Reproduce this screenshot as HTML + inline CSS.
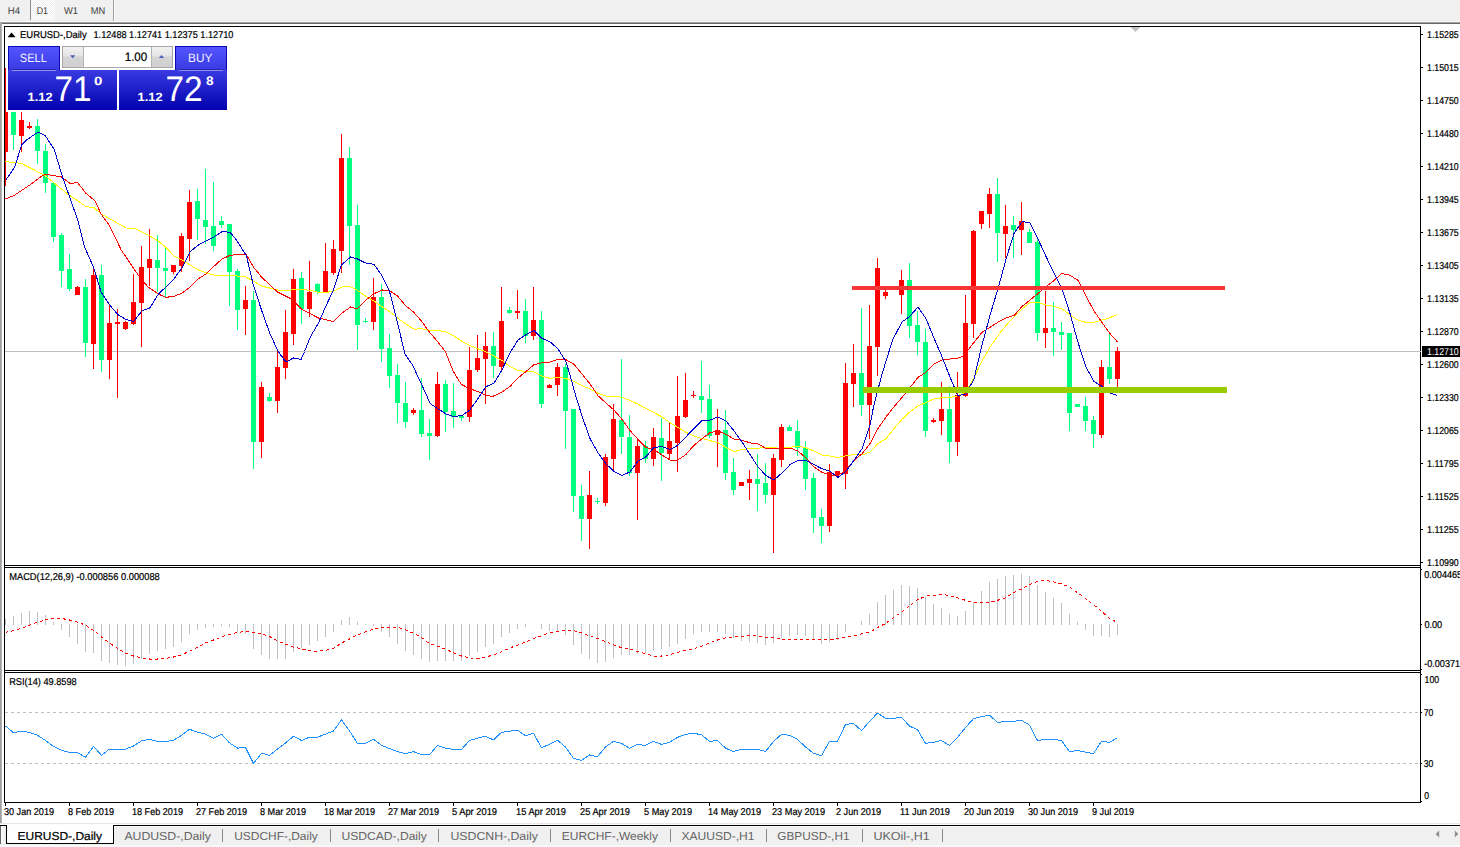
<!DOCTYPE html><html><head><meta charset="utf-8"><title>EURUSD-,Daily</title><style>html,body{margin:0;padding:0;background:#fff;overflow:hidden}svg{display:block}text{font-family:"Liberation Sans",Arial,sans-serif;white-space:pre;text-rendering:geometricPrecision}</style></head><body>
<svg width="1460" height="847" viewBox="0 0 1460 847">
<defs>
<linearGradient id="gb" x1="0" y1="0" x2="0" y2="1"><stop offset="0" stop-color="#5555ff"/><stop offset="1" stop-color="#3a3ae2"/></linearGradient>
<linearGradient id="gp" x1="0" y1="0" x2="0" y2="1"><stop offset="0" stop-color="#3a3ae2"/><stop offset="1" stop-color="#0202ae"/></linearGradient>
<linearGradient id="gs" x1="0" y1="0" x2="0" y2="1"><stop offset="0" stop-color="#f2f2f2"/><stop offset="0.45" stop-color="#e4e4e4"/><stop offset="0.5" stop-color="#d4d4d4"/><stop offset="1" stop-color="#cfcfcf"/></linearGradient>
<pattern id="chk" width="2" height="2" patternUnits="userSpaceOnUse"><rect width="2" height="2" fill="#f0f0f0"/><rect width="1" height="1" fill="#fff"/><rect x="1" y="1" width="1" height="1" fill="#fff"/></pattern>
</defs>
<rect x="0" y="0" width="1460" height="847" fill="#fff" />
<rect x="0" y="0" width="1460" height="22" fill="#f0f0f0" />
<rect x="0" y="21" width="1460" height="1" fill="#f8f8f8" />
<rect x="0" y="22" width="1460" height="1" fill="#a0a0a0" />
<rect x="0" y="23" width="1460" height="1" fill="#696969" />
<rect x="31" y="0" width="24" height="20" fill="url(#chk)" />
<rect x="30" y="0" width="1" height="20" fill="#8c8c8c" />
<rect x="113" y="0" width="1" height="21" fill="#a0a0a0" />
<rect x="114" y="0" width="1" height="21" fill="#fbfbfb" />
<text x="7.7" y="13.8" font-size="10" fill="#3c3c3c" textLength="12.3" lengthAdjust="spacingAndGlyphs" >H4</text>
<text x="36.7" y="13.8" font-size="10" fill="#3c3c3c" textLength="11.3" lengthAdjust="spacingAndGlyphs" >D1</text>
<text x="64" y="13.8" font-size="10" fill="#3c3c3c" textLength="14" lengthAdjust="spacingAndGlyphs" >W1</text>
<text x="90.7" y="13.8" font-size="10" fill="#3c3c3c" textLength="14.5" lengthAdjust="spacingAndGlyphs" >MN</text>
<rect x="0" y="22" width="1" height="803" fill="#a0a0a0" />
<rect x="1" y="23" width="1" height="802" fill="#b4b4b4" />
<g shape-rendering="crispEdges">
<rect x="5" y="351" width="1415" height="1" fill="#c0c0c0" />
<rect x="5" y="68" width="1" height="118" fill="#ff0000" />
<rect x="5" y="112" width="3" height="40" fill="#ff0000" />
<rect x="13" y="112" width="1" height="38" fill="#00ff7f" />
<rect x="11" y="112" width="5" height="23" fill="#00ff7f" />
<rect x="21" y="112" width="1" height="40" fill="#ff0000" />
<rect x="19" y="120" width="5" height="16" fill="#ff0000" />
<rect x="29" y="122" width="1" height="7" fill="#ff0000" />
<rect x="27" y="126" width="5" height="2" fill="#ff0000" />
<rect x="37" y="119" width="1" height="45" fill="#00ff7f" />
<rect x="35" y="126" width="5" height="25" fill="#00ff7f" />
<rect x="45" y="144" width="1" height="49" fill="#00ff7f" />
<rect x="43" y="151" width="5" height="32" fill="#00ff7f" />
<rect x="53" y="182" width="1" height="60" fill="#00ff7f" />
<rect x="51" y="183" width="5" height="54" fill="#00ff7f" />
<rect x="61" y="233" width="1" height="54" fill="#00ff7f" />
<rect x="59" y="235" width="5" height="36" fill="#00ff7f" />
<rect x="69" y="254" width="1" height="37" fill="#00ff7f" />
<rect x="67" y="269" width="5" height="20" fill="#00ff7f" />
<rect x="77" y="286" width="1" height="9" fill="#ff0000" />
<rect x="75" y="287" width="5" height="8" fill="#ff0000" />
<rect x="85" y="279" width="1" height="78" fill="#00ff7f" />
<rect x="83" y="287" width="5" height="56" fill="#00ff7f" />
<rect x="93" y="269" width="1" height="100" fill="#ff0000" />
<rect x="91" y="275" width="5" height="69" fill="#ff0000" />
<rect x="101" y="265" width="1" height="107" fill="#00ff7f" />
<rect x="99" y="275" width="5" height="85" fill="#00ff7f" />
<rect x="109" y="304" width="1" height="75" fill="#ff0000" />
<rect x="107" y="323" width="5" height="37" fill="#ff0000" />
<rect x="117" y="309" width="1" height="89" fill="#ff0000" />
<rect x="115" y="322" width="5" height="2" fill="#ff0000" />
<rect x="125" y="321" width="1" height="9" fill="#ff0000" />
<rect x="123" y="322" width="5" height="7" fill="#ff0000" />
<rect x="133" y="274" width="1" height="51" fill="#ff0000" />
<rect x="131" y="302" width="5" height="22" fill="#ff0000" />
<rect x="141" y="246" width="1" height="101" fill="#ff0000" />
<rect x="139" y="267" width="5" height="36" fill="#ff0000" />
<rect x="149" y="229" width="1" height="57" fill="#ff0000" />
<rect x="147" y="259" width="5" height="9" fill="#ff0000" />
<rect x="157" y="235" width="1" height="57" fill="#00ff7f" />
<rect x="155" y="260" width="5" height="8" fill="#00ff7f" />
<rect x="165" y="248" width="1" height="49" fill="#00ff7f" />
<rect x="163" y="268" width="5" height="3" fill="#00ff7f" />
<rect x="173" y="265" width="1" height="9" fill="#ff0000" />
<rect x="171" y="265" width="5" height="7" fill="#ff0000" />
<rect x="181" y="233" width="1" height="39" fill="#ff0000" />
<rect x="179" y="236" width="5" height="30" fill="#ff0000" />
<rect x="189" y="190" width="1" height="71" fill="#ff0000" />
<rect x="187" y="202" width="5" height="37" fill="#ff0000" />
<rect x="197" y="189" width="1" height="51" fill="#00ff7f" />
<rect x="195" y="201" width="5" height="18" fill="#00ff7f" />
<rect x="205" y="169" width="1" height="75" fill="#00ff7f" />
<rect x="203" y="220" width="5" height="7" fill="#00ff7f" />
<rect x="213" y="182" width="1" height="69" fill="#00ff7f" />
<rect x="211" y="226" width="5" height="20" fill="#00ff7f" />
<rect x="221" y="216" width="1" height="12" fill="#00ff7f" />
<rect x="219" y="221" width="5" height="4" fill="#00ff7f" />
<rect x="229" y="224" width="1" height="82" fill="#00ff7f" />
<rect x="227" y="224" width="5" height="48" fill="#00ff7f" />
<rect x="237" y="269" width="1" height="61" fill="#00ff7f" />
<rect x="235" y="271" width="5" height="39" fill="#00ff7f" />
<rect x="245" y="286" width="1" height="49" fill="#ff0000" />
<rect x="243" y="300" width="5" height="9" fill="#ff0000" />
<rect x="253" y="291" width="1" height="178" fill="#00ff7f" />
<rect x="251" y="300" width="5" height="142" fill="#00ff7f" />
<rect x="261" y="382" width="1" height="76" fill="#ff0000" />
<rect x="259" y="387" width="5" height="55" fill="#ff0000" />
<rect x="269" y="393" width="1" height="9" fill="#00ff7f" />
<rect x="267" y="397" width="5" height="4" fill="#00ff7f" />
<rect x="277" y="349" width="1" height="64" fill="#ff0000" />
<rect x="275" y="367" width="5" height="34" fill="#ff0000" />
<rect x="285" y="310" width="1" height="69" fill="#ff0000" />
<rect x="283" y="332" width="5" height="36" fill="#ff0000" />
<rect x="293" y="269" width="1" height="76" fill="#ff0000" />
<rect x="291" y="279" width="5" height="55" fill="#ff0000" />
<rect x="301" y="272" width="1" height="52" fill="#00ff7f" />
<rect x="299" y="278" width="5" height="31" fill="#00ff7f" />
<rect x="309" y="261" width="1" height="56" fill="#ff0000" />
<rect x="307" y="292" width="5" height="17" fill="#ff0000" />
<rect x="317" y="283" width="1" height="11" fill="#00ff7f" />
<rect x="315" y="284" width="5" height="8" fill="#00ff7f" />
<rect x="325" y="243" width="1" height="49" fill="#ff0000" />
<rect x="323" y="271" width="5" height="21" fill="#ff0000" />
<rect x="333" y="240" width="1" height="35" fill="#ff0000" />
<rect x="331" y="249" width="5" height="24" fill="#ff0000" />
<rect x="341" y="134" width="1" height="139" fill="#ff0000" />
<rect x="339" y="158" width="5" height="93" fill="#ff0000" />
<rect x="349" y="147" width="1" height="118" fill="#00ff7f" />
<rect x="347" y="158" width="5" height="68" fill="#00ff7f" />
<rect x="357" y="205" width="1" height="145" fill="#00ff7f" />
<rect x="355" y="225" width="5" height="100" fill="#00ff7f" />
<rect x="365" y="318" width="1" height="5" fill="#00ff7f" />
<rect x="363" y="321" width="5" height="1" fill="#00ff7f" />
<rect x="373" y="278" width="1" height="52" fill="#ff0000" />
<rect x="371" y="297" width="5" height="25" fill="#ff0000" />
<rect x="381" y="284" width="1" height="78" fill="#00ff7f" />
<rect x="379" y="297" width="5" height="52" fill="#00ff7f" />
<rect x="389" y="334" width="1" height="54" fill="#00ff7f" />
<rect x="387" y="348" width="5" height="28" fill="#00ff7f" />
<rect x="397" y="364" width="1" height="59" fill="#00ff7f" />
<rect x="395" y="375" width="5" height="28" fill="#00ff7f" />
<rect x="405" y="382" width="1" height="46" fill="#00ff7f" />
<rect x="403" y="403" width="5" height="19" fill="#00ff7f" />
<rect x="413" y="408" width="1" height="7" fill="#ff0000" />
<rect x="411" y="410" width="5" height="3" fill="#ff0000" />
<rect x="421" y="378" width="1" height="59" fill="#00ff7f" />
<rect x="419" y="410" width="5" height="24" fill="#00ff7f" />
<rect x="429" y="419" width="1" height="41" fill="#00ff7f" />
<rect x="427" y="433" width="5" height="3" fill="#00ff7f" />
<rect x="437" y="372" width="1" height="65" fill="#ff0000" />
<rect x="435" y="384" width="5" height="52" fill="#ff0000" />
<rect x="445" y="380" width="1" height="52" fill="#00ff7f" />
<rect x="443" y="384" width="5" height="28" fill="#00ff7f" />
<rect x="453" y="383" width="1" height="45" fill="#00ff7f" />
<rect x="451" y="411" width="5" height="6" fill="#00ff7f" />
<rect x="461" y="416" width="1" height="5" fill="#00ff7f" />
<rect x="459" y="416" width="5" height="2" fill="#00ff7f" />
<rect x="469" y="347" width="1" height="75" fill="#ff0000" />
<rect x="467" y="370" width="5" height="47" fill="#ff0000" />
<rect x="477" y="335" width="1" height="37" fill="#ff0000" />
<rect x="475" y="358" width="5" height="12" fill="#ff0000" />
<rect x="485" y="332" width="1" height="72" fill="#ff0000" />
<rect x="483" y="346" width="5" height="13" fill="#ff0000" />
<rect x="493" y="332" width="1" height="46" fill="#00ff7f" />
<rect x="491" y="346" width="5" height="20" fill="#00ff7f" />
<rect x="501" y="287" width="1" height="83" fill="#ff0000" />
<rect x="499" y="321" width="5" height="46" fill="#ff0000" />
<rect x="509" y="307" width="1" height="7" fill="#00ff7f" />
<rect x="507" y="310" width="5" height="3" fill="#00ff7f" />
<rect x="517" y="290" width="1" height="29" fill="#ff0000" />
<rect x="515" y="311" width="5" height="2" fill="#ff0000" />
<rect x="525" y="299" width="1" height="44" fill="#00ff7f" />
<rect x="523" y="311" width="5" height="25" fill="#00ff7f" />
<rect x="533" y="287" width="1" height="53" fill="#ff0000" />
<rect x="531" y="320" width="5" height="16" fill="#ff0000" />
<rect x="541" y="311" width="1" height="97" fill="#00ff7f" />
<rect x="539" y="320" width="5" height="84" fill="#00ff7f" />
<rect x="549" y="384" width="1" height="4" fill="#ff0000" />
<rect x="547" y="385" width="5" height="3" fill="#ff0000" />
<rect x="557" y="363" width="1" height="33" fill="#ff0000" />
<rect x="555" y="367" width="5" height="18" fill="#ff0000" />
<rect x="565" y="364" width="1" height="85" fill="#00ff7f" />
<rect x="563" y="367" width="5" height="44" fill="#00ff7f" />
<rect x="573" y="409" width="1" height="103" fill="#00ff7f" />
<rect x="571" y="409" width="5" height="87" fill="#00ff7f" />
<rect x="581" y="485" width="1" height="56" fill="#00ff7f" />
<rect x="579" y="496" width="5" height="23" fill="#00ff7f" />
<rect x="589" y="471" width="1" height="78" fill="#ff0000" />
<rect x="587" y="495" width="5" height="24" fill="#ff0000" />
<rect x="597" y="498" width="1" height="6" fill="#00ff7f" />
<rect x="595" y="501" width="5" height="1" fill="#00ff7f" />
<rect x="605" y="454" width="1" height="52" fill="#ff0000" />
<rect x="603" y="457" width="5" height="46" fill="#ff0000" />
<rect x="613" y="404" width="1" height="66" fill="#ff0000" />
<rect x="611" y="419" width="5" height="40" fill="#ff0000" />
<rect x="621" y="359" width="1" height="95" fill="#00ff7f" />
<rect x="619" y="420" width="5" height="17" fill="#00ff7f" />
<rect x="629" y="415" width="1" height="61" fill="#00ff7f" />
<rect x="627" y="437" width="5" height="36" fill="#00ff7f" />
<rect x="637" y="439" width="1" height="81" fill="#ff0000" />
<rect x="635" y="446" width="5" height="27" fill="#ff0000" />
<rect x="645" y="441" width="1" height="22" fill="#00ff7f" />
<rect x="643" y="446" width="5" height="13" fill="#00ff7f" />
<rect x="653" y="428" width="1" height="38" fill="#ff0000" />
<rect x="651" y="437" width="5" height="22" fill="#ff0000" />
<rect x="661" y="418" width="1" height="63" fill="#00ff7f" />
<rect x="659" y="438" width="5" height="15" fill="#00ff7f" />
<rect x="669" y="422" width="1" height="38" fill="#ff0000" />
<rect x="667" y="441" width="5" height="13" fill="#ff0000" />
<rect x="677" y="376" width="1" height="96" fill="#ff0000" />
<rect x="675" y="416" width="5" height="27" fill="#ff0000" />
<rect x="685" y="373" width="1" height="45" fill="#ff0000" />
<rect x="683" y="400" width="5" height="17" fill="#ff0000" />
<rect x="693" y="391" width="1" height="7" fill="#ff0000" />
<rect x="691" y="395" width="5" height="1" fill="#ff0000" />
<rect x="701" y="361" width="1" height="52" fill="#00ff7f" />
<rect x="699" y="396" width="5" height="4" fill="#00ff7f" />
<rect x="709" y="385" width="1" height="53" fill="#00ff7f" />
<rect x="707" y="399" width="5" height="37" fill="#00ff7f" />
<rect x="717" y="409" width="1" height="58" fill="#ff0000" />
<rect x="715" y="430" width="5" height="5" fill="#ff0000" />
<rect x="725" y="410" width="1" height="70" fill="#00ff7f" />
<rect x="723" y="430" width="5" height="43" fill="#00ff7f" />
<rect x="733" y="458" width="1" height="37" fill="#00ff7f" />
<rect x="731" y="472" width="5" height="18" fill="#00ff7f" />
<rect x="741" y="482" width="1" height="4" fill="#ff0000" />
<rect x="739" y="482" width="5" height="4" fill="#ff0000" />
<rect x="749" y="470" width="1" height="30" fill="#ff0000" />
<rect x="747" y="479" width="5" height="4" fill="#ff0000" />
<rect x="757" y="454" width="1" height="57" fill="#00ff7f" />
<rect x="755" y="479" width="5" height="5" fill="#00ff7f" />
<rect x="765" y="463" width="1" height="40" fill="#00ff7f" />
<rect x="763" y="483" width="5" height="12" fill="#00ff7f" />
<rect x="773" y="454" width="1" height="99" fill="#ff0000" />
<rect x="771" y="458" width="5" height="37" fill="#ff0000" />
<rect x="781" y="424" width="1" height="43" fill="#ff0000" />
<rect x="779" y="427" width="5" height="33" fill="#ff0000" />
<rect x="789" y="425" width="1" height="6" fill="#00ff7f" />
<rect x="787" y="427" width="5" height="4" fill="#00ff7f" />
<rect x="797" y="420" width="1" height="36" fill="#00ff7f" />
<rect x="795" y="431" width="5" height="17" fill="#00ff7f" />
<rect x="805" y="441" width="1" height="49" fill="#00ff7f" />
<rect x="803" y="448" width="5" height="31" fill="#00ff7f" />
<rect x="813" y="473" width="1" height="60" fill="#00ff7f" />
<rect x="811" y="478" width="5" height="40" fill="#00ff7f" />
<rect x="821" y="509" width="1" height="34" fill="#00ff7f" />
<rect x="819" y="517" width="5" height="9" fill="#00ff7f" />
<rect x="829" y="464" width="1" height="68" fill="#ff0000" />
<rect x="827" y="472" width="5" height="54" fill="#ff0000" />
<rect x="837" y="471" width="1" height="5" fill="#ff0000" />
<rect x="835" y="471" width="5" height="4" fill="#ff0000" />
<rect x="845" y="363" width="1" height="126" fill="#ff0000" />
<rect x="843" y="383" width="5" height="91" fill="#ff0000" />
<rect x="853" y="344" width="1" height="63" fill="#ff0000" />
<rect x="851" y="373" width="5" height="11" fill="#ff0000" />
<rect x="861" y="308" width="1" height="108" fill="#00ff7f" />
<rect x="859" y="373" width="5" height="32" fill="#00ff7f" />
<rect x="869" y="305" width="1" height="134" fill="#ff0000" />
<rect x="867" y="346" width="5" height="59" fill="#ff0000" />
<rect x="877" y="258" width="1" height="118" fill="#ff0000" />
<rect x="875" y="268" width="5" height="79" fill="#ff0000" />
<rect x="885" y="290" width="1" height="9" fill="#ff0000" />
<rect x="883" y="292" width="5" height="4" fill="#ff0000" />
<rect x="893" y="287" width="1" height="2" fill="#ff0000" />
<rect x="891" y="287" width="5" height="2" fill="#ff0000" />
<rect x="901" y="270" width="1" height="44" fill="#ff0000" />
<rect x="899" y="280" width="5" height="15" fill="#ff0000" />
<rect x="909" y="263" width="1" height="75" fill="#00ff7f" />
<rect x="907" y="280" width="5" height="46" fill="#00ff7f" />
<rect x="917" y="311" width="1" height="44" fill="#00ff7f" />
<rect x="915" y="325" width="5" height="17" fill="#00ff7f" />
<rect x="925" y="329" width="1" height="108" fill="#00ff7f" />
<rect x="923" y="342" width="5" height="89" fill="#00ff7f" />
<rect x="933" y="418" width="1" height="5" fill="#ff0000" />
<rect x="931" y="420" width="5" height="2" fill="#ff0000" />
<rect x="941" y="382" width="1" height="53" fill="#ff0000" />
<rect x="939" y="409" width="5" height="12" fill="#ff0000" />
<rect x="949" y="386" width="1" height="77" fill="#00ff7f" />
<rect x="947" y="409" width="5" height="33" fill="#00ff7f" />
<rect x="957" y="372" width="1" height="84" fill="#ff0000" />
<rect x="955" y="395" width="5" height="47" fill="#ff0000" />
<rect x="965" y="295" width="1" height="102" fill="#ff0000" />
<rect x="963" y="323" width="5" height="73" fill="#ff0000" />
<rect x="973" y="230" width="1" height="108" fill="#ff0000" />
<rect x="971" y="231" width="5" height="93" fill="#ff0000" />
<rect x="981" y="211" width="1" height="18" fill="#ff0000" />
<rect x="979" y="211" width="5" height="13" fill="#ff0000" />
<rect x="989" y="188" width="1" height="40" fill="#ff0000" />
<rect x="987" y="194" width="5" height="20" fill="#ff0000" />
<rect x="997" y="178" width="1" height="84" fill="#00ff7f" />
<rect x="995" y="194" width="5" height="39" fill="#00ff7f" />
<rect x="1005" y="205" width="1" height="53" fill="#ff0000" />
<rect x="1003" y="226" width="5" height="8" fill="#ff0000" />
<rect x="1013" y="216" width="1" height="42" fill="#00ff7f" />
<rect x="1011" y="225" width="5" height="5" fill="#00ff7f" />
<rect x="1021" y="202" width="1" height="53" fill="#ff0000" />
<rect x="1019" y="221" width="5" height="9" fill="#ff0000" />
<rect x="1029" y="229" width="1" height="14" fill="#00ff7f" />
<rect x="1027" y="232" width="5" height="11" fill="#00ff7f" />
<rect x="1037" y="237" width="1" height="104" fill="#00ff7f" />
<rect x="1035" y="242" width="5" height="91" fill="#00ff7f" />
<rect x="1045" y="291" width="1" height="57" fill="#ff0000" />
<rect x="1043" y="328" width="5" height="5" fill="#ff0000" />
<rect x="1053" y="302" width="1" height="54" fill="#00ff7f" />
<rect x="1051" y="328" width="5" height="4" fill="#00ff7f" />
<rect x="1061" y="322" width="1" height="28" fill="#00ff7f" />
<rect x="1059" y="332" width="5" height="3" fill="#00ff7f" />
<rect x="1069" y="333" width="1" height="98" fill="#00ff7f" />
<rect x="1067" y="333" width="5" height="80" fill="#00ff7f" />
<rect x="1077" y="404" width="1" height="3" fill="#00ff7f" />
<rect x="1075" y="404" width="5" height="3" fill="#00ff7f" />
<rect x="1085" y="397" width="1" height="34" fill="#00ff7f" />
<rect x="1083" y="406" width="5" height="15" fill="#00ff7f" />
<rect x="1093" y="416" width="1" height="32" fill="#00ff7f" />
<rect x="1091" y="420" width="5" height="14" fill="#00ff7f" />
<rect x="1101" y="360" width="1" height="78" fill="#ff0000" />
<rect x="1099" y="367" width="5" height="68" fill="#ff0000" />
<rect x="1109" y="334" width="1" height="50" fill="#00ff7f" />
<rect x="1107" y="367" width="5" height="12" fill="#00ff7f" />
<rect x="1117" y="347" width="1" height="40" fill="#ff0000" />
<rect x="1115" y="351" width="5" height="28" fill="#ff0000" />
</g>
<g shape-rendering="crispEdges">
<polyline points="5.0,161.4 6.4,161.7 21.5,163.4 44.9,175.4 67.5,193.9 86.0,206.5 94.5,208.0 101.1,214.0 126.3,228.0 134.5,228.2 149.5,235.8 158.1,241.0 165.5,246.8 174.1,256.0 182.5,260.2 190.0,265.0 198.4,270.0 206.5,272.8 213.5,275.0 236.5,276.0 244.9,276.6 253.3,281.0 261.5,286.0 277.5,290.0 285.1,291.0 293.5,289.5 302.5,289.5 310.3,290.3 318.5,292.3 327.1,292.3 333.5,291.0 342.2,287.0 350.5,286.6 357.2,290.3 365.5,296.0 374.0,301.0 382.5,307.0 389.9,312.0 397.5,318.0 405.9,323.9 414.3,329.4 421.0,328.4 429.4,330.6 439.5,330.6 446.1,332.0 454.5,336.4 462.1,341.5 471.3,346.0 478.0,348.8 485.9,351.8 494.0,356.2 502.0,360.4 509.9,366.5 518.0,370.4 526.0,371.5 533.9,371.8 542.1,376.0 550.0,378.5 558.0,377.0 566.1,378.5 574.1,381.5 582.0,385.7 590.1,389.0 598.0,393.3 606.0,396.0 613.9,396.0 622.0,397.3 630.1,400.5 638.0,404.1 646.0,408.6 653.9,412.6 662.0,416.8 670.0,422.7 677.9,427.4 685.9,432.2 694.0,436.0 702.2,438.6 710.1,440.6 718.1,442.8 726.0,447.5 734.1,451.7 742.0,449.5 750.0,448.7 758.1,448.3 765.9,447.3 782.0,448.3 790.1,447.3 798.0,446.0 805.9,447.8 814.0,451.0 822.0,455.0 829.9,456.0 838.0,457.5 846.0,455.8 853.9,454.5 862.1,455.0 870.0,452.0 878.0,443.6 886.1,438.6 894.1,428.5 902.0,419.3 910.1,411.7 918.0,405.9 926.0,402.5 933.9,399.0 941.9,397.8 949.8,397.5 957.9,395.8 965.9,392.0 973.9,378.0 982.3,360.5 990.5,346.5 999.9,333.0 1009.1,322.0 1017.5,313.5 1025.5,305.9 1030.1,302.5 1038.0,302.2 1046.0,305.0 1053.9,306.3 1062.0,308.8 1070.0,315.0 1077.9,320.0 1085.9,322.4 1094.0,322.4 1102.2,320.0 1110.1,317.7 1117.3,314.4" fill="none" stroke="#ffff00" stroke-width="1" />
<polyline points="5.0,199.0 6.4,198.6 13.9,195.6 29.0,185.5 41.5,176.3 45.5,174.3 55.5,176.0 61.5,177.0 70.1,183.5 77.5,182.5 86.0,193.4 95.2,201.0 101.1,214.0 109.5,225.7 121.2,250.0 139.5,277.0 148.1,287.0 158.1,293.8 165.5,297.4 174.1,296.3 182.5,292.9 190.0,287.0 198.4,278.7 206.5,273.6 214.3,266.0 221.5,259.4 229.5,255.5 237.0,254.5 246.5,254.8 253.3,266.8 261.5,277.0 277.5,292.0 291.0,298.7 301.1,308.8 310.3,313.8 318.5,318.0 326.2,319.7 333.5,321.7 342.2,313.0 350.5,307.0 357.2,309.0 365.5,300.4 374.0,293.7 382.5,290.0 389.9,291.0 397.5,296.0 405.9,306.0 413.5,312.0 421.0,320.5 429.4,332.0 437.5,341.5 445.3,351.5 453.5,371.8 461.3,384.4 469.5,388.6 478.1,391.6 485.5,395.0 492.3,396.6 502.0,392.0 509.9,386.5 518.0,378.0 526.0,371.5 533.9,364.8 542.1,362.7 550.0,362.0 558.0,359.4 566.1,359.7 574.1,364.4 582.0,374.0 590.1,384.0 598.0,395.8 605.9,403.0 614.0,410.0 622.0,419.3 630.1,430.6 638.0,439.4 646.0,447.5 653.9,449.5 662.0,455.0 670.0,460.0 677.9,460.0 685.9,454.5 694.0,445.3 702.2,438.6 710.1,432.7 718.1,431.0 726.0,434.4 734.1,439.0 742.0,440.3 750.0,442.8 758.1,444.0 765.9,448.3 774.0,448.3 782.0,448.3 790.1,448.0 798.0,451.0 805.9,457.9 814.0,467.0 822.0,472.4 829.9,475.0 838.0,475.5 846.0,470.4 853.9,460.4 862.1,453.7 870.0,443.6 878.0,428.5 886.1,416.8 894.1,406.7 906.2,392.5 910.1,387.4 918.0,377.4 926.0,372.3 933.9,364.0 941.9,360.0 949.8,359.0 957.9,358.0 964.9,355.6 967.2,351.0 973.9,342.5 981.9,332.5 990.5,327.0 999.9,321.0 1006.5,317.8 1014.4,315.2 1022.5,306.0 1025.9,303.5 1029.9,300.0 1037.9,293.6 1046.0,286.6 1053.9,280.7 1061.5,273.5 1070.1,275.3 1078.5,280.7 1084.4,292.5 1085.9,296.0 1094.0,311.0 1102.2,322.8 1110.1,333.7 1117.3,341.7" fill="none" stroke="#ff0000" stroke-width="1" />
<polyline points="5.5,180.5 14.8,167.0 21.5,145.0 26.5,140.0 38.2,132.0 45.5,136.0 54.2,149.4 62.5,177.0 70.9,200.6 78.5,222.4 84.4,246.8 93.5,267.0 101.1,292.0 109.5,304.7 117.9,314.7 126.3,319.7 133.8,321.4 142.2,310.5 149.8,308.0 158.1,294.6 174.1,278.7 182.5,267.0 190.0,251.8 198.4,245.0 214.3,236.7 222.5,231.4 230.3,232.5 236.5,240.0 246.5,256.0 253.3,285.0 261.5,310.0 270.0,334.0 278.5,352.0 286.0,362.0 293.5,358.0 301.1,359.4 304.5,351.5 310.3,337.0 318.5,323.0 326.2,305.4 333.5,290.0 341.3,265.0 350.5,257.0 357.2,258.8 365.5,263.0 374.0,264.3 381.5,275.0 389.1,290.0 396.5,318.8 405.0,354.0 412.5,365.0 421.9,385.0 430.3,403.7 437.8,408.7 446.2,414.0 453.5,416.6 462.1,415.4 469.5,410.4 478.1,398.5 485.9,386.7 494.0,383.2 502.0,369.9 509.9,353.0 518.0,340.0 526.0,334.6 533.9,330.4 542.1,338.4 550.0,341.8 558.0,348.8 566.1,362.0 571.1,379.0 575.5,395.0 582.3,416.8 590.0,438.6 598.1,452.9 605.9,463.8 614.0,471.3 622.0,475.5 630.1,471.8 638.0,461.2 646.0,456.7 653.9,447.5 662.0,446.5 670.0,449.5 677.9,445.3 685.9,436.9 694.0,428.5 702.2,420.5 710.1,420.0 718.1,417.0 726.0,421.0 734.1,431.0 742.0,442.0 750.0,454.5 758.1,467.0 765.9,475.5 774.0,480.0 782.0,473.0 790.1,464.6 798.0,460.5 805.9,460.4 814.0,464.6 822.0,468.8 829.9,471.3 838.0,477.5 846.0,471.3 853.9,460.4 862.1,448.6 870.0,425.0 873.5,407.0 881.1,377.4 886.1,360.6 892.8,339.6 902.0,322.0 910.1,316.0 918.0,307.0 926.0,318.7 933.9,338.0 941.9,356.4 949.8,376.5 957.9,395.8 965.9,394.0 974.0,379.0 981.5,347.0 990.1,315.0 998.5,286.8 1006.1,259.0 1013.9,233.8 1022.0,221.7 1029.9,222.5 1037.9,238.8 1046.0,256.4 1053.9,273.0 1060.1,285.0 1063.5,293.4 1070.0,313.5 1077.9,342.0 1085.9,367.0 1094.0,381.5 1102.2,386.5 1110.1,393.0 1117.3,395.4" fill="none" stroke="#0000cd" stroke-width="1" />
<rect x="852" y="286" width="373" height="4" fill="#f93636" />
<rect x="863" y="387" width="364" height="6" fill="#99cc00" />
<rect x="5" y="619" width="1" height="6" fill="#c0c0c0" />
<rect x="13" y="616" width="1" height="9" fill="#c0c0c0" />
<rect x="21" y="613" width="1" height="12" fill="#c0c0c0" />
<rect x="29" y="611" width="1" height="14" fill="#c0c0c0" />
<rect x="37" y="612" width="1" height="13" fill="#c0c0c0" />
<rect x="45" y="615" width="1" height="10" fill="#c0c0c0" />
<rect x="53" y="622" width="1" height="3" fill="#c0c0c0" />
<rect x="61" y="624" width="1" height="6" fill="#c0c0c0" />
<rect x="69" y="624" width="1" height="13" fill="#c0c0c0" />
<rect x="77" y="624" width="1" height="20" fill="#c0c0c0" />
<rect x="85" y="624" width="1" height="28" fill="#c0c0c0" />
<rect x="93" y="624" width="1" height="29" fill="#c0c0c0" />
<rect x="101" y="624" width="1" height="37" fill="#c0c0c0" />
<rect x="109" y="624" width="1" height="39" fill="#c0c0c0" />
<rect x="117" y="624" width="1" height="41" fill="#c0c0c0" />
<rect x="125" y="624" width="1" height="42" fill="#c0c0c0" />
<rect x="133" y="624" width="1" height="40" fill="#c0c0c0" />
<rect x="141" y="624" width="1" height="35" fill="#c0c0c0" />
<rect x="149" y="624" width="1" height="30" fill="#c0c0c0" />
<rect x="157" y="624" width="1" height="27" fill="#c0c0c0" />
<rect x="165" y="624" width="1" height="25" fill="#c0c0c0" />
<rect x="173" y="624" width="1" height="23" fill="#c0c0c0" />
<rect x="181" y="624" width="1" height="18" fill="#c0c0c0" />
<rect x="189" y="624" width="1" height="10" fill="#c0c0c0" />
<rect x="197" y="624" width="1" height="6" fill="#c0c0c0" />
<rect x="205" y="624" width="1" height="4" fill="#c0c0c0" />
<rect x="213" y="624" width="1" height="3" fill="#c0c0c0" />
<rect x="221" y="624" width="1" height="2" fill="#c0c0c0" />
<rect x="229" y="624" width="1" height="3" fill="#c0c0c0" />
<rect x="237" y="624" width="1" height="8" fill="#c0c0c0" />
<rect x="245" y="624" width="1" height="10" fill="#c0c0c0" />
<rect x="253" y="624" width="1" height="25" fill="#c0c0c0" />
<rect x="261" y="624" width="1" height="31" fill="#c0c0c0" />
<rect x="269" y="624" width="1" height="35" fill="#c0c0c0" />
<rect x="277" y="624" width="1" height="35" fill="#c0c0c0" />
<rect x="285" y="624" width="1" height="35" fill="#c0c0c0" />
<rect x="293" y="624" width="1" height="28" fill="#c0c0c0" />
<rect x="301" y="624" width="1" height="24" fill="#c0c0c0" />
<rect x="309" y="624" width="1" height="21" fill="#c0c0c0" />
<rect x="317" y="624" width="1" height="17" fill="#c0c0c0" />
<rect x="325" y="624" width="1" height="13" fill="#c0c0c0" />
<rect x="333" y="624" width="1" height="8" fill="#c0c0c0" />
<rect x="341" y="620" width="1" height="5" fill="#c0c0c0" />
<rect x="349" y="617" width="1" height="8" fill="#c0c0c0" />
<rect x="357" y="622" width="1" height="3" fill="#c0c0c0" />
<rect x="365" y="624" width="1" height="1" fill="#c0c0c0" />
<rect x="373" y="624" width="1" height="2" fill="#c0c0c0" />
<rect x="381" y="624" width="1" height="8" fill="#c0c0c0" />
<rect x="389" y="624" width="1" height="13" fill="#c0c0c0" />
<rect x="397" y="624" width="1" height="20" fill="#c0c0c0" />
<rect x="405" y="624" width="1" height="27" fill="#c0c0c0" />
<rect x="413" y="624" width="1" height="31" fill="#c0c0c0" />
<rect x="421" y="624" width="1" height="35" fill="#c0c0c0" />
<rect x="429" y="624" width="1" height="38" fill="#c0c0c0" />
<rect x="437" y="624" width="1" height="37" fill="#c0c0c0" />
<rect x="445" y="624" width="1" height="37" fill="#c0c0c0" />
<rect x="453" y="624" width="1" height="37" fill="#c0c0c0" />
<rect x="461" y="624" width="1" height="37" fill="#c0c0c0" />
<rect x="469" y="624" width="1" height="32" fill="#c0c0c0" />
<rect x="477" y="624" width="1" height="28" fill="#c0c0c0" />
<rect x="485" y="624" width="1" height="23" fill="#c0c0c0" />
<rect x="493" y="624" width="1" height="20" fill="#c0c0c0" />
<rect x="501" y="624" width="1" height="13" fill="#c0c0c0" />
<rect x="509" y="624" width="1" height="9" fill="#c0c0c0" />
<rect x="517" y="624" width="1" height="5" fill="#c0c0c0" />
<rect x="525" y="624" width="1" height="3" fill="#c0c0c0" />
<rect x="541" y="624" width="1" height="5" fill="#c0c0c0" />
<rect x="549" y="624" width="1" height="7" fill="#c0c0c0" />
<rect x="557" y="624" width="1" height="8" fill="#c0c0c0" />
<rect x="565" y="624" width="1" height="11" fill="#c0c0c0" />
<rect x="573" y="624" width="1" height="21" fill="#c0c0c0" />
<rect x="581" y="624" width="1" height="30" fill="#c0c0c0" />
<rect x="589" y="624" width="1" height="35" fill="#c0c0c0" />
<rect x="597" y="624" width="1" height="39" fill="#c0c0c0" />
<rect x="605" y="624" width="1" height="38" fill="#c0c0c0" />
<rect x="613" y="624" width="1" height="34" fill="#c0c0c0" />
<rect x="621" y="624" width="1" height="31" fill="#c0c0c0" />
<rect x="629" y="624" width="1" height="31" fill="#c0c0c0" />
<rect x="637" y="624" width="1" height="30" fill="#c0c0c0" />
<rect x="645" y="624" width="1" height="29" fill="#c0c0c0" />
<rect x="653" y="624" width="1" height="27" fill="#c0c0c0" />
<rect x="661" y="624" width="1" height="25" fill="#c0c0c0" />
<rect x="669" y="624" width="1" height="23" fill="#c0c0c0" />
<rect x="677" y="624" width="1" height="20" fill="#c0c0c0" />
<rect x="685" y="624" width="1" height="15" fill="#c0c0c0" />
<rect x="693" y="624" width="1" height="10" fill="#c0c0c0" />
<rect x="701" y="624" width="1" height="8" fill="#c0c0c0" />
<rect x="709" y="624" width="1" height="8" fill="#c0c0c0" />
<rect x="717" y="624" width="1" height="8" fill="#c0c0c0" />
<rect x="725" y="624" width="1" height="10" fill="#c0c0c0" />
<rect x="733" y="624" width="1" height="14" fill="#c0c0c0" />
<rect x="741" y="624" width="1" height="17" fill="#c0c0c0" />
<rect x="749" y="624" width="1" height="18" fill="#c0c0c0" />
<rect x="757" y="624" width="1" height="19" fill="#c0c0c0" />
<rect x="765" y="624" width="1" height="21" fill="#c0c0c0" />
<rect x="773" y="624" width="1" height="19" fill="#c0c0c0" />
<rect x="781" y="624" width="1" height="14" fill="#c0c0c0" />
<rect x="789" y="624" width="1" height="12" fill="#c0c0c0" />
<rect x="797" y="624" width="1" height="11" fill="#c0c0c0" />
<rect x="805" y="624" width="1" height="12" fill="#c0c0c0" />
<rect x="813" y="624" width="1" height="16" fill="#c0c0c0" />
<rect x="821" y="624" width="1" height="20" fill="#c0c0c0" />
<rect x="829" y="624" width="1" height="18" fill="#c0c0c0" />
<rect x="837" y="624" width="1" height="16" fill="#c0c0c0" />
<rect x="845" y="624" width="1" height="8" fill="#c0c0c0" />
<rect x="861" y="621" width="1" height="4" fill="#c0c0c0" />
<rect x="869" y="614" width="1" height="11" fill="#c0c0c0" />
<rect x="877" y="602" width="1" height="23" fill="#c0c0c0" />
<rect x="885" y="595" width="1" height="30" fill="#c0c0c0" />
<rect x="893" y="590" width="1" height="35" fill="#c0c0c0" />
<rect x="901" y="585" width="1" height="40" fill="#c0c0c0" />
<rect x="909" y="586" width="1" height="39" fill="#c0c0c0" />
<rect x="917" y="588" width="1" height="37" fill="#c0c0c0" />
<rect x="925" y="597" width="1" height="28" fill="#c0c0c0" />
<rect x="933" y="604" width="1" height="21" fill="#c0c0c0" />
<rect x="941" y="608" width="1" height="17" fill="#c0c0c0" />
<rect x="949" y="614" width="1" height="11" fill="#c0c0c0" />
<rect x="957" y="616" width="1" height="9" fill="#c0c0c0" />
<rect x="965" y="611" width="1" height="14" fill="#c0c0c0" />
<rect x="973" y="602" width="1" height="23" fill="#c0c0c0" />
<rect x="981" y="591" width="1" height="34" fill="#c0c0c0" />
<rect x="989" y="582" width="1" height="43" fill="#c0c0c0" />
<rect x="997" y="579" width="1" height="46" fill="#c0c0c0" />
<rect x="1005" y="576" width="1" height="49" fill="#c0c0c0" />
<rect x="1013" y="575" width="1" height="50" fill="#c0c0c0" />
<rect x="1021" y="574" width="1" height="51" fill="#c0c0c0" />
<rect x="1029" y="576" width="1" height="49" fill="#c0c0c0" />
<rect x="1037" y="585" width="1" height="40" fill="#c0c0c0" />
<rect x="1045" y="592" width="1" height="33" fill="#c0c0c0" />
<rect x="1053" y="598" width="1" height="27" fill="#c0c0c0" />
<rect x="1061" y="603" width="1" height="22" fill="#c0c0c0" />
<rect x="1069" y="614" width="1" height="11" fill="#c0c0c0" />
<rect x="1077" y="622" width="1" height="3" fill="#c0c0c0" />
<rect x="1085" y="624" width="1" height="6" fill="#c0c0c0" />
<rect x="1093" y="624" width="1" height="12" fill="#c0c0c0" />
<rect x="1101" y="624" width="1" height="12" fill="#c0c0c0" />
<rect x="1109" y="624" width="1" height="13" fill="#c0c0c0" />
<rect x="1117" y="624" width="1" height="11" fill="#c0c0c0" />
</g>
<polyline points="5.5,632.4 13.5,630.7 21.5,628.3 29.5,625.2 37.5,622.1 45.5,620.0 53.5,618.4 61.5,618.4 69.5,620.0 77.5,622.1 85.5,625.2 93.5,630.3 101.5,636.9 109.5,643.0 117.5,648.2 125.5,653.0 133.5,656.0 141.5,657.9 149.5,659.0 157.5,659.0 165.5,658.5 173.5,657.0 181.5,654.8 189.5,651.3 197.5,647.2 205.5,643.0 213.5,640.0 221.5,636.9 229.5,634.4 237.5,632.4 245.5,631.4 253.5,632.4 261.5,633.8 269.5,636.5 277.5,641.0 285.5,644.0 293.5,647.2 301.5,648.8 309.5,650.7 317.5,651.3 325.5,650.3 333.5,648.2 341.5,643.0 349.5,639.0 357.5,634.9 365.5,631.8 373.5,629.1 381.5,627.3 389.5,627.3 397.5,627.3 405.5,629.7 413.5,633.4 421.5,637.5 429.5,643.7 437.5,646.2 445.5,649.2 453.5,652.9 461.5,656.0 469.5,657.9 477.5,658.5 485.5,657.0 493.5,655.0 501.5,651.7 509.5,648.2 517.5,645.1 525.5,642.0 533.5,638.6 541.5,635.9 549.5,632.8 557.5,631.4 565.5,630.3 573.5,630.7 581.5,632.8 589.5,635.9 597.5,638.6 605.5,641.4 613.5,644.7 621.5,647.8 629.5,649.2 637.5,651.3 645.5,653.8 653.5,656.0 661.5,656.0 669.5,654.8 677.5,652.3 685.5,650.3 693.5,648.8 701.5,646.2 709.5,643.0 717.5,640.0 725.5,637.9 733.5,636.9 741.5,636.3 749.5,635.5 757.5,635.9 765.5,637.3 773.5,637.9 781.5,639.0 789.5,639.4 797.5,639.4 805.5,639.4 813.5,639.4 821.5,639.4 829.5,639.4 837.5,638.6 845.5,637.3 853.5,636.3 861.5,633.8 869.5,632.4 877.5,627.5 885.5,623.6 893.5,617.4 901.5,612.3 909.5,605.7 917.5,599.9 925.5,596.2 933.5,595.4 941.5,594.4 949.5,595.4 957.5,597.9 965.5,600.3 973.5,602.4 981.5,602.6 989.5,602.4 997.5,600.3 1005.5,597.9 1013.5,592.7 1021.5,589.0 1029.5,584.5 1037.5,581.4 1045.5,580.4 1053.5,581.8 1061.5,583.9 1069.5,587.0 1077.5,592.7 1085.5,598.5 1093.5,604.7 1101.5,611.2 1109.5,618.4 1117.5,622.5" fill="none" stroke="#ff0000" stroke-width="1" stroke-dasharray="3 3" shape-rendering="crispEdges"/>
<g shape-rendering="crispEdges">
<line x1="5" y1="712.5" x2="1420" y2="712.5" stroke="#c0c0c0" stroke-width="1" stroke-dasharray="3 3"/>
<line x1="5" y1="763.5" x2="1420" y2="763.5" stroke="#c0c0c0" stroke-width="1" stroke-dasharray="3 3"/>
</g>
<polyline points="5.5,725.9 13.5,732.7 21.5,731.2 29.5,732.3 37.5,735.3 45.5,740.5 53.5,746.4 61.5,750.1 69.5,752.6 77.5,752.6 85.5,757.3 93.5,746.4 101.5,755.3 109.5,749.1 117.5,749.1 125.5,749.1 133.5,746.0 141.5,740.9 149.5,739.4 157.5,741.5 165.5,741.5 173.5,740.3 181.5,735.3 189.5,729.2 197.5,732.3 205.5,734.1 213.5,738.2 221.5,734.1 229.5,742.9 237.5,748.1 245.5,747.5 253.5,763.5 261.5,753.2 269.5,755.3 277.5,749.1 285.5,742.9 293.5,736.2 301.5,740.5 309.5,737.2 317.5,737.2 325.5,734.1 333.5,731.0 341.5,719.9 349.5,731.0 357.5,743.4 365.5,743.4 373.5,739.2 381.5,745.4 389.5,748.5 397.5,751.6 405.5,753.6 413.5,751.6 421.5,754.7 429.5,754.7 437.5,745.4 445.5,748.1 453.5,749.5 461.5,749.5 469.5,740.5 477.5,738.2 485.5,736.2 493.5,739.9 501.5,732.3 509.5,731.2 517.5,730.2 525.5,735.7 533.5,733.3 541.5,747.7 549.5,744.4 557.5,740.3 565.5,747.0 573.5,758.4 581.5,760.4 589.5,755.0 597.5,756.7 605.5,747.0 613.5,741.3 621.5,743.4 629.5,748.1 637.5,744.4 645.5,745.4 653.5,741.3 661.5,744.4 669.5,742.3 677.5,737.4 685.5,734.3 693.5,733.3 701.5,734.7 709.5,741.5 717.5,740.5 725.5,748.1 733.5,751.6 741.5,749.1 749.5,749.1 757.5,749.1 765.5,751.6 773.5,741.5 781.5,734.3 789.5,735.3 797.5,739.4 805.5,747.0 813.5,753.2 821.5,755.7 829.5,741.3 837.5,741.3 845.5,724.4 853.5,723.4 861.5,730.6 869.5,721.4 877.5,713.1 885.5,718.3 893.5,718.3 901.5,717.3 909.5,726.1 917.5,729.6 925.5,743.4 933.5,742.3 941.5,740.5 949.5,745.4 957.5,737.4 965.5,727.5 973.5,718.7 981.5,716.6 989.5,715.2 997.5,722.4 1005.5,721.4 1013.5,721.4 1021.5,720.3 1029.5,725.1 1037.5,740.5 1045.5,739.4 1053.5,739.4 1061.5,740.5 1069.5,751.6 1077.5,750.5 1085.5,752.2 1093.5,753.6 1101.5,741.3 1109.5,742.3 1117.5,737.8" fill="none" stroke="#1e90ff" stroke-width="1" shape-rendering="crispEdges"/>
<g shape-rendering="crispEdges" fill="#000">
<rect x="4" y="26" width="1417" height="1" fill="#000" />
<rect x="4" y="26" width="1" height="777" fill="#000" />
<rect x="1420" y="26" width="1" height="777" fill="#000" />
<rect x="4" y="565" width="1417" height="1" fill="#000" />
<rect x="4" y="567" width="1417" height="1" fill="#000" />
<rect x="4" y="670" width="1417" height="1" fill="#000" />
<rect x="4" y="672" width="1417" height="1" fill="#000" />
<rect x="4" y="802" width="1417" height="1" fill="#000" />
<rect x="1420" y="351" width="1" height="1" fill="#c0c0c0" />
<rect x="1421" y="34" width="2" height="1" fill="#000" />
<rect x="1421" y="67" width="2" height="1" fill="#000" />
<rect x="1421" y="100" width="2" height="1" fill="#000" />
<rect x="1421" y="133" width="2" height="1" fill="#000" />
<rect x="1421" y="166" width="2" height="1" fill="#000" />
<rect x="1421" y="199" width="2" height="1" fill="#000" />
<rect x="1421" y="232" width="2" height="1" fill="#000" />
<rect x="1421" y="265" width="2" height="1" fill="#000" />
<rect x="1421" y="298" width="2" height="1" fill="#000" />
<rect x="1421" y="331" width="2" height="1" fill="#000" />
<rect x="1421" y="364" width="2" height="1" fill="#000" />
<rect x="1421" y="397" width="2" height="1" fill="#000" />
<rect x="1421" y="430" width="2" height="1" fill="#000" />
<rect x="1421" y="463" width="2" height="1" fill="#000" />
<rect x="1421" y="496" width="2" height="1" fill="#000" />
<rect x="1421" y="529" width="2" height="1" fill="#000" />
<rect x="1421" y="562" width="2" height="1" fill="#000" />
<rect x="1421" y="569" width="1" height="1" fill="#000" />
<rect x="1421" y="624" width="1" height="1" fill="#000" />
<rect x="1421" y="669" width="1" height="1" fill="#000" />
<rect x="1421" y="674" width="1" height="1" fill="#000" />
<rect x="1421" y="712" width="1" height="1" fill="#000" />
<rect x="1421" y="763" width="1" height="1" fill="#000" />
<rect x="1421" y="801" width="1" height="1" fill="#000" />
<rect x="5" y="803" width="1" height="3" fill="#000" />
<rect x="69" y="803" width="1" height="3" fill="#000" />
<rect x="133" y="803" width="1" height="3" fill="#000" />
<rect x="197" y="803" width="1" height="3" fill="#000" />
<rect x="261" y="803" width="1" height="3" fill="#000" />
<rect x="325" y="803" width="1" height="3" fill="#000" />
<rect x="389" y="803" width="1" height="3" fill="#000" />
<rect x="453" y="803" width="1" height="3" fill="#000" />
<rect x="517" y="803" width="1" height="3" fill="#000" />
<rect x="581" y="803" width="1" height="3" fill="#000" />
<rect x="645" y="803" width="1" height="3" fill="#000" />
<rect x="709" y="803" width="1" height="3" fill="#000" />
<rect x="773" y="803" width="1" height="3" fill="#000" />
<rect x="837" y="803" width="1" height="3" fill="#000" />
<rect x="901" y="803" width="1" height="3" fill="#000" />
<rect x="965" y="803" width="1" height="3" fill="#000" />
<rect x="1029" y="803" width="1" height="3" fill="#000" />
<rect x="1093" y="803" width="1" height="3" fill="#000" />
<polygon points="1130.5,27 1140.5,27 1135.5,32" fill="#c0c0c0" shape-rendering="geometricPrecision"/>
</g>
<text x="1427" y="38" font-size="10" fill="#000" textLength="31.7" lengthAdjust="spacingAndGlyphs" stroke="#000" stroke-width="0.22" >1.15285</text>
<text x="1427" y="71" font-size="10" fill="#000" textLength="31.7" lengthAdjust="spacingAndGlyphs" stroke="#000" stroke-width="0.22" >1.15015</text>
<text x="1427" y="104" font-size="10" fill="#000" textLength="31.7" lengthAdjust="spacingAndGlyphs" stroke="#000" stroke-width="0.22" >1.14750</text>
<text x="1427" y="137" font-size="10" fill="#000" textLength="31.7" lengthAdjust="spacingAndGlyphs" stroke="#000" stroke-width="0.22" >1.14480</text>
<text x="1427" y="170" font-size="10" fill="#000" textLength="31.7" lengthAdjust="spacingAndGlyphs" stroke="#000" stroke-width="0.22" >1.14210</text>
<text x="1427" y="203" font-size="10" fill="#000" textLength="31.7" lengthAdjust="spacingAndGlyphs" stroke="#000" stroke-width="0.22" >1.13945</text>
<text x="1427" y="236" font-size="10" fill="#000" textLength="31.7" lengthAdjust="spacingAndGlyphs" stroke="#000" stroke-width="0.22" >1.13675</text>
<text x="1427" y="269" font-size="10" fill="#000" textLength="31.7" lengthAdjust="spacingAndGlyphs" stroke="#000" stroke-width="0.22" >1.13405</text>
<text x="1427" y="302" font-size="10" fill="#000" textLength="31.7" lengthAdjust="spacingAndGlyphs" stroke="#000" stroke-width="0.22" >1.13135</text>
<text x="1427" y="335" font-size="10" fill="#000" textLength="31.7" lengthAdjust="spacingAndGlyphs" stroke="#000" stroke-width="0.22" >1.12870</text>
<text x="1427" y="368" font-size="10" fill="#000" textLength="31.7" lengthAdjust="spacingAndGlyphs" stroke="#000" stroke-width="0.22" >1.12600</text>
<text x="1427" y="401" font-size="10" fill="#000" textLength="31.7" lengthAdjust="spacingAndGlyphs" stroke="#000" stroke-width="0.22" >1.12330</text>
<text x="1427" y="434" font-size="10" fill="#000" textLength="31.7" lengthAdjust="spacingAndGlyphs" stroke="#000" stroke-width="0.22" >1.12065</text>
<text x="1427" y="467" font-size="10" fill="#000" textLength="31.7" lengthAdjust="spacingAndGlyphs" stroke="#000" stroke-width="0.22" >1.11795</text>
<text x="1427" y="500" font-size="10" fill="#000" textLength="31.7" lengthAdjust="spacingAndGlyphs" stroke="#000" stroke-width="0.22" >1.11525</text>
<text x="1427" y="533" font-size="10" fill="#000" textLength="31.7" lengthAdjust="spacingAndGlyphs" stroke="#000" stroke-width="0.22" >1.11255</text>
<text x="1427" y="566" font-size="10" fill="#000" textLength="31.7" lengthAdjust="spacingAndGlyphs" stroke="#000" stroke-width="0.22" >1.10990</text>
<rect x="1422" y="346" width="38" height="11" fill="#000" shape-rendering="crispEdges"/>
<text x="1427" y="355" font-size="10" fill="#fff" textLength="31.7" lengthAdjust="spacingAndGlyphs" >1.12710</text>
<text x="1424.2" y="578" font-size="10" fill="#000" textLength="38" lengthAdjust="spacingAndGlyphs" stroke="#000" stroke-width="0.22" >0.004465</text>
<text x="1424.4" y="628" font-size="10" fill="#000" textLength="17.8" lengthAdjust="spacingAndGlyphs" stroke="#000" stroke-width="0.22" >0.00</text>
<text x="1424.2" y="667" font-size="10" fill="#000" textLength="41" lengthAdjust="spacingAndGlyphs" stroke="#000" stroke-width="0.22" >-0.003718</text>
<text x="1424.6" y="683" font-size="10" fill="#000" textLength="14.6" lengthAdjust="spacingAndGlyphs" stroke="#000" stroke-width="0.22" >100</text>
<text x="1423.8" y="716" font-size="10" fill="#000" textLength="9.6" lengthAdjust="spacingAndGlyphs" stroke="#000" stroke-width="0.22" >70</text>
<text x="1423.8" y="767" font-size="10" fill="#000" textLength="9.6" lengthAdjust="spacingAndGlyphs" stroke="#000" stroke-width="0.22" >30</text>
<text x="1424.2" y="799" font-size="10" fill="#000" textLength="4.8" lengthAdjust="spacingAndGlyphs" stroke="#000" stroke-width="0.22" >0</text>
<text x="4.0" y="815" font-size="10" fill="#000" textLength="50" lengthAdjust="spacingAndGlyphs" stroke="#000" stroke-width="0.22" >30 Jan 2019</text>
<text x="68.0" y="815" font-size="10" fill="#000" textLength="46" lengthAdjust="spacingAndGlyphs" stroke="#000" stroke-width="0.22" >8 Feb 2019</text>
<text x="132.0" y="815" font-size="10" fill="#000" textLength="51" lengthAdjust="spacingAndGlyphs" stroke="#000" stroke-width="0.22" >18 Feb 2019</text>
<text x="196.0" y="815" font-size="10" fill="#000" textLength="51" lengthAdjust="spacingAndGlyphs" stroke="#000" stroke-width="0.22" >27 Feb 2019</text>
<text x="260.0" y="815" font-size="10" fill="#000" textLength="46" lengthAdjust="spacingAndGlyphs" stroke="#000" stroke-width="0.22" >8 Mar 2019</text>
<text x="324.0" y="815" font-size="10" fill="#000" textLength="51" lengthAdjust="spacingAndGlyphs" stroke="#000" stroke-width="0.22" >18 Mar 2019</text>
<text x="388.0" y="815" font-size="10" fill="#000" textLength="51" lengthAdjust="spacingAndGlyphs" stroke="#000" stroke-width="0.22" >27 Mar 2019</text>
<text x="452.0" y="815" font-size="10" fill="#000" textLength="45" lengthAdjust="spacingAndGlyphs" stroke="#000" stroke-width="0.22" >5 Apr 2019</text>
<text x="516.0" y="815" font-size="10" fill="#000" textLength="50" lengthAdjust="spacingAndGlyphs" stroke="#000" stroke-width="0.22" >15 Apr 2019</text>
<text x="580.0" y="815" font-size="10" fill="#000" textLength="50" lengthAdjust="spacingAndGlyphs" stroke="#000" stroke-width="0.22" >25 Apr 2019</text>
<text x="644.0" y="815" font-size="10" fill="#000" textLength="48" lengthAdjust="spacingAndGlyphs" stroke="#000" stroke-width="0.22" >5 May 2019</text>
<text x="708.0" y="815" font-size="10" fill="#000" textLength="53" lengthAdjust="spacingAndGlyphs" stroke="#000" stroke-width="0.22" >14 May 2019</text>
<text x="772.0" y="815" font-size="10" fill="#000" textLength="53" lengthAdjust="spacingAndGlyphs" stroke="#000" stroke-width="0.22" >23 May 2019</text>
<text x="836.0" y="815" font-size="10" fill="#000" textLength="45" lengthAdjust="spacingAndGlyphs" stroke="#000" stroke-width="0.22" >2 Jun 2019</text>
<text x="900.0" y="815" font-size="10" fill="#000" textLength="50" lengthAdjust="spacingAndGlyphs" stroke="#000" stroke-width="0.22" >11 Jun 2019</text>
<text x="964.0" y="815" font-size="10" fill="#000" textLength="50" lengthAdjust="spacingAndGlyphs" stroke="#000" stroke-width="0.22" >20 Jun 2019</text>
<text x="1028.0" y="815" font-size="10" fill="#000" textLength="50" lengthAdjust="spacingAndGlyphs" stroke="#000" stroke-width="0.22" >30 Jun 2019</text>
<text x="1092.0" y="815" font-size="10" fill="#000" textLength="42" lengthAdjust="spacingAndGlyphs" stroke="#000" stroke-width="0.22" >9 Jul 2019</text>
<polygon points="7.6,37.3 15.6,37.3 11.6,32.4" fill="#000"/>
<text x="20" y="38" font-size="10" fill="#000" textLength="66.7" lengthAdjust="spacingAndGlyphs" stroke="#000" stroke-width="0.22" >EURUSD-,Daily</text>
<text x="93.5" y="38" font-size="10" fill="#000" textLength="139.9" lengthAdjust="spacingAndGlyphs" stroke="#000" stroke-width="0.22" >1.12488 1.12741 1.12375 1.12710</text>
<text x="9.2" y="580" font-size="10" fill="#000" textLength="150.6" lengthAdjust="spacingAndGlyphs" stroke="#000" stroke-width="0.22" >MACD(12,26,9) -0.000856 0.000088</text>
<text x="9.2" y="685" font-size="10" fill="#000" textLength="67.5" lengthAdjust="spacingAndGlyphs" stroke="#000" stroke-width="0.22" >RSI(14) 49.8598</text>
<g shape-rendering="crispEdges">
<rect x="8" y="46" width="219" height="64" fill="#fff" />
<rect x="8" y="46" width="52" height="24" fill="#0a0ab4" />
<rect x="9" y="47" width="50" height="23" fill="url(#gb)" />
<rect x="175" y="46" width="52" height="24" fill="#0a0ab4" />
<rect x="176" y="47" width="50" height="23" fill="url(#gb)" />
<rect x="8" y="70" width="109" height="40" fill="url(#gp)" />
<rect x="119" y="70" width="108" height="40" fill="url(#gp)" />
<rect x="12" y="69" width="44" height="1" fill="#2424b0" />
<rect x="12" y="70" width="44" height="1" fill="#8f8ff2" />
<rect x="179" y="69" width="44" height="1" fill="#2424b0" />
<rect x="179" y="70" width="44" height="1" fill="#8f8ff2" />
<rect x="62" y="46" width="111" height="22" fill="#a6a6a6" />
<rect x="63" y="47" width="109" height="20" fill="#fff" />
<rect x="63" y="47" width="20" height="20" fill="url(#gs)" />
<rect x="83" y="47" width="1" height="20" fill="#b4b4b4" />
<rect x="152" y="47" width="20" height="20" fill="url(#gs)" />
<rect x="151" y="47" width="1" height="20" fill="#b4b4b4" />
</g>
<polygon points="70,55.3 75.4,55.3 72.7,58.2" fill="#4b5fc0"/>
<polygon points="158.8,58 164.2,58 161.5,55" fill="#4b5fc0"/>
<text x="124.7" y="60.5" font-size="12.2" fill="#000" textLength="22.6" lengthAdjust="spacingAndGlyphs" stroke="#000" stroke-width="0.22" >1.00</text>
<text x="19.8" y="62" font-size="12.1" fill="#eeeeff" textLength="27" lengthAdjust="spacingAndGlyphs" >SELL</text>
<text x="188" y="62" font-size="12.1" fill="#eeeeff" textLength="24.4" lengthAdjust="spacingAndGlyphs" >BUY</text>
<text x="27.6" y="100.9" font-size="12" fill="#fff" textLength="25" lengthAdjust="spacingAndGlyphs" font-weight="bold" >1.12</text>
<text x="54.4" y="101.2" font-size="35.5" fill="#fff" textLength="37" lengthAdjust="spacingAndGlyphs" >71</text>
<text x="94.1" y="85.3" font-size="12" fill="#fff" textLength="8.4" lengthAdjust="spacingAndGlyphs" font-weight="bold" >0</text>
<text x="137.6" y="100.9" font-size="12" fill="#fff" textLength="25" lengthAdjust="spacingAndGlyphs" font-weight="bold" >1.12</text>
<text x="165.5" y="101.2" font-size="35.5" fill="#fff" textLength="37.2" lengthAdjust="spacingAndGlyphs" >72</text>
<text x="205.9" y="85.3" font-size="12.4" fill="#fff" textLength="7.6" lengthAdjust="spacingAndGlyphs" font-weight="bold" >8</text>
<g shape-rendering="crispEdges">
<rect x="0" y="823" width="1460" height="1" fill="#e6e6e6" />
<rect x="0" y="824" width="1460" height="1" fill="#fcfcfc" />
<rect x="0" y="825" width="1460" height="1" fill="#000" />
<rect x="0" y="826" width="1460" height="21" fill="#f0f0f0" />
<rect x="0" y="826" width="1460" height="1" fill="#f8f8f8" />
<rect x="0" y="845" width="1460" height="2" fill="#f8f8f8" />
<rect x="7" y="825" width="106" height="18" fill="#fff" />
<rect x="6" y="825" width="1" height="19" fill="#000" />
<rect x="113" y="825" width="1" height="19" fill="#000" />
<rect x="6" y="843" width="108" height="1" fill="#000" />
<rect x="0" y="826" width="1" height="18" fill="#696969" />
<rect x="1" y="826" width="2" height="17" fill="#fafafa" />
<rect x="222" y="829" width="1" height="13" fill="#8c8c8c" />
<rect x="330" y="829" width="1" height="13" fill="#8c8c8c" />
<rect x="438" y="829" width="1" height="13" fill="#8c8c8c" />
<rect x="550" y="829" width="1" height="13" fill="#8c8c8c" />
<rect x="670" y="829" width="1" height="13" fill="#8c8c8c" />
<rect x="766" y="829" width="1" height="13" fill="#8c8c8c" />
<rect x="862" y="829" width="1" height="13" fill="#8c8c8c" />
<rect x="942" y="829" width="1" height="13" fill="#8c8c8c" />
</g>
<text x="17.6" y="839.5" font-size="11.6" fill="#000" textLength="84.4" lengthAdjust="spacingAndGlyphs" stroke="#000" stroke-width="0.22" >EURUSD-,Daily</text>
<text x="124.4" y="839.5" font-size="11.6" fill="#646464" textLength="86.5" lengthAdjust="spacingAndGlyphs" >AUDUSD-,Daily</text>
<text x="234.2" y="839.5" font-size="11.6" fill="#646464" textLength="83.6" lengthAdjust="spacingAndGlyphs" >USDCHF-,Daily</text>
<text x="341.4" y="839.5" font-size="11.6" fill="#646464" textLength="85.4" lengthAdjust="spacingAndGlyphs" >USDCAD-,Daily</text>
<text x="450.5" y="839.5" font-size="11.6" fill="#646464" textLength="87.3" lengthAdjust="spacingAndGlyphs" >USDCNH-,Daily</text>
<text x="561.8" y="839.5" font-size="11.6" fill="#646464" textLength="96.2" lengthAdjust="spacingAndGlyphs" >EURCHF-,Weekly</text>
<text x="681.5" y="839.5" font-size="11.6" fill="#646464" textLength="73" lengthAdjust="spacingAndGlyphs" >XAUUSD-,H1</text>
<text x="777.3" y="839.5" font-size="11.6" fill="#646464" textLength="72.2" lengthAdjust="spacingAndGlyphs" >GBPUSD-,H1</text>
<text x="873.4" y="839.5" font-size="11.6" fill="#646464" textLength="56.3" lengthAdjust="spacingAndGlyphs" >UKOil-,H1</text>
<polygon points="1435.6,834 1439.2,830.6 1439.2,837.4" fill="#909090"/>
<polygon points="1458.4,834 1454.8,830.6 1454.8,837.4" fill="#909090"/>
</svg></body></html>
